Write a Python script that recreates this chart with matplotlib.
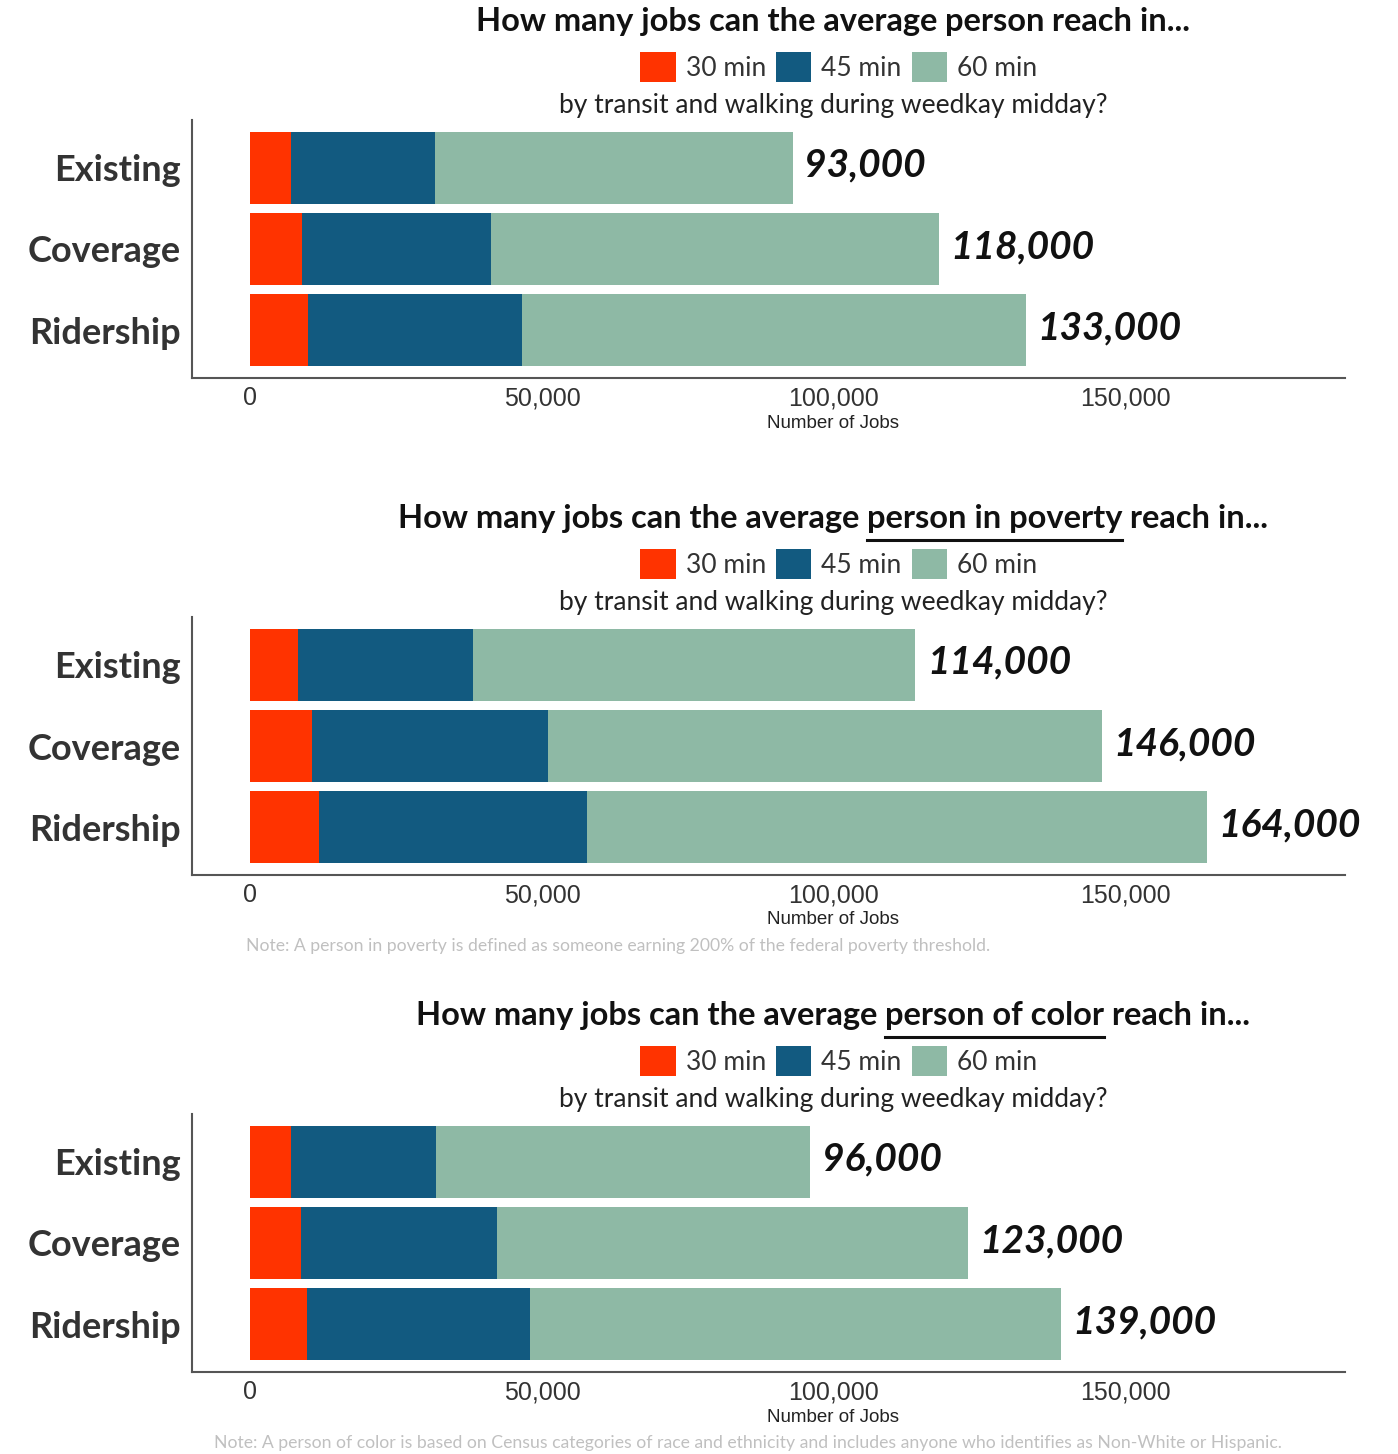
import numpy as np
import matplotlib
matplotlib.use("Agg")
import matplotlib.pyplot as plt
from matplotlib.patches import Patch
from matplotlib.ticker import FuncFormatter

# Cumulative jobs reachable (30 / 45 / 60 min) per network scenario
scenarios = ["Existing", "Coverage", "Ridership"]
legend_labels = ["30 min", "45 min", "60 min"]

all_30 = [7000, 8900, 9900]
all_45 = [31600, 41300, 46500]
all_60 = [93000, 118000, 133000]

pov_30 = [8100, 10600, 11800]
pov_45 = [38100, 51100, 57800]
pov_60 = [114000, 146000, 164000]

poc_30 = [6900, 8700, 9800]
poc_45 = [31900, 42300, 48000]
poc_60 = [96000, 123000, 139000]

xticks = [0, 50000, 100000, 150000]

titles = [
    ("How many jobs can the average ", "person", " reach in..."),
    ("How many jobs can the average ", "person in poverty", " reach in..."),
    ("How many jobs can the average ", "person of color", " reach in..."),
]
underline = [False, True, True]
subtitle = "by transit and walking during weedkay midday?"
notes = [
    None,
    "Note: A person in poverty is defined as someone earning 200% of the federal poverty threshold.",
    "Note: A person of color is based on Census categories of race and ethnicity and includes anyone who identifies as Non-White or Hispanic.",
]

colors = ["#ff3300", "#125a80", "#8eb9a5"]

W, H = 1398, 1454
fig = plt.figure(figsize=(W / 100, H / 100), dpi=100)
renderer = fig.canvas.get_renderer()


def px(x, y):
    # pixel coords (top-left origin) -> figure fraction
    return x / W, 1 - y / H


def title_line(parts, cx, y, ul):
    kw = dict(fontsize=23.5, family="Lato", weight="bold", color="#111111",
              va="baseline", ha="left")
    texts = [fig.text(0, 0, p, **kw) for p in parts]
    widths = [t.get_window_extent(renderer).width for t in texts]
    x = cx - sum(widths) / 2
    fx0 = fx1 = None
    for i, (t, w) in enumerate(zip(texts, widths)):
        t.set_position(px(x, y))
        if i == 1:
            fx0, fx1 = x, x + w
        x += w
    if ul:
        fig.add_artist(plt.Line2D([fx0 / W, fx1 / W], [1 - (y + 12) / H] * 2,
                                  color="#111111", lw=2.2))


data = [(all_30, all_45, all_60), (pov_30, pov_45, pov_60), (poc_30, poc_45, poc_60)]
offset = 497
for k, (v30, v45, v60) in enumerate(data):
    dy = k * offset
    ax = fig.add_axes([192 / W, 1 - (378 + dy) / H, (1345 - 192) / W, 258 / H])
    y = np.arange(len(scenarios))
    # longest first so shorter bars sit on top
    ax.barh(y, v60, height=0.89, color=colors[2])
    ax.barh(y, v45, height=0.89, color=colors[1])
    ax.barh(y, v30, height=0.89, color=colors[0])
    for yi, tot in zip(y, v60):
        ax.text(tot + 2000, yi - 0.03, f"{tot:,}", fontsize=28, family="Lato",
                weight="bold", style="italic", va="center", ha="left", color="#111111")
    ax.set_xlim(-10000, 187700)
    ax.set_ylim(2.59, -0.59)
    ax.set_yticks(y)
    ax.set_yticklabels(scenarios, fontsize=26, family="Lato", weight="bold", color="#333333")
    ax.set_xticks(xticks)
    ax.xaxis.set_major_formatter(FuncFormatter(lambda v, p: f"{int(v):,}"))
    for lab in ax.get_xticklabels():
        lab.set_fontsize(18)
        lab.set_family("Liberation Sans")
        lab.set_color("#333333")
    ax.tick_params(length=0, axis="both")
    ax.tick_params(axis="y", pad=8)
    ax.tick_params(axis="x", pad=6)
    for s in ["top", "right"]:
        ax.spines[s].set_visible(False)
    for s in ["left", "bottom"]:
        ax.spines[s].set_color("#555555")
        ax.spines[s].set_linewidth(1.5)

    fig.text(*px(833, 423 + dy), "Number of Jobs", fontsize=13.5, family="Liberation Sans",
             ha="center", va="center", color="#222222")

    title_line(titles[k], 833, 31 + dy, underline[k])
    fig.text(*px(833, 105 + dy), subtitle, fontsize=19, family="Lato",
             ha="center", va="center", color="#222222")
    handles = [Patch(facecolor=c, edgecolor="none") for c in colors]
    fig.legend(handles, legend_labels, loc="center", bbox_to_anchor=px(839, 67 + dy),
               ncol=3, frameon=False, prop={"family": "Lato", "size": 19},
               labelcolor="#333333",
               handlelength=1.33, handleheight=1.4, handletextpad=0.38, columnspacing=0.4)
    if notes[k]:
        nx = 246 if k == 1 else 214
        fig.text(*px(nx, 946 - 497 + dy), notes[k], fontsize=12.7, family="Lato",
                 ha="left", va="center", color="#c0c0c0")

fig.savefig("out.png", dpi=100)
